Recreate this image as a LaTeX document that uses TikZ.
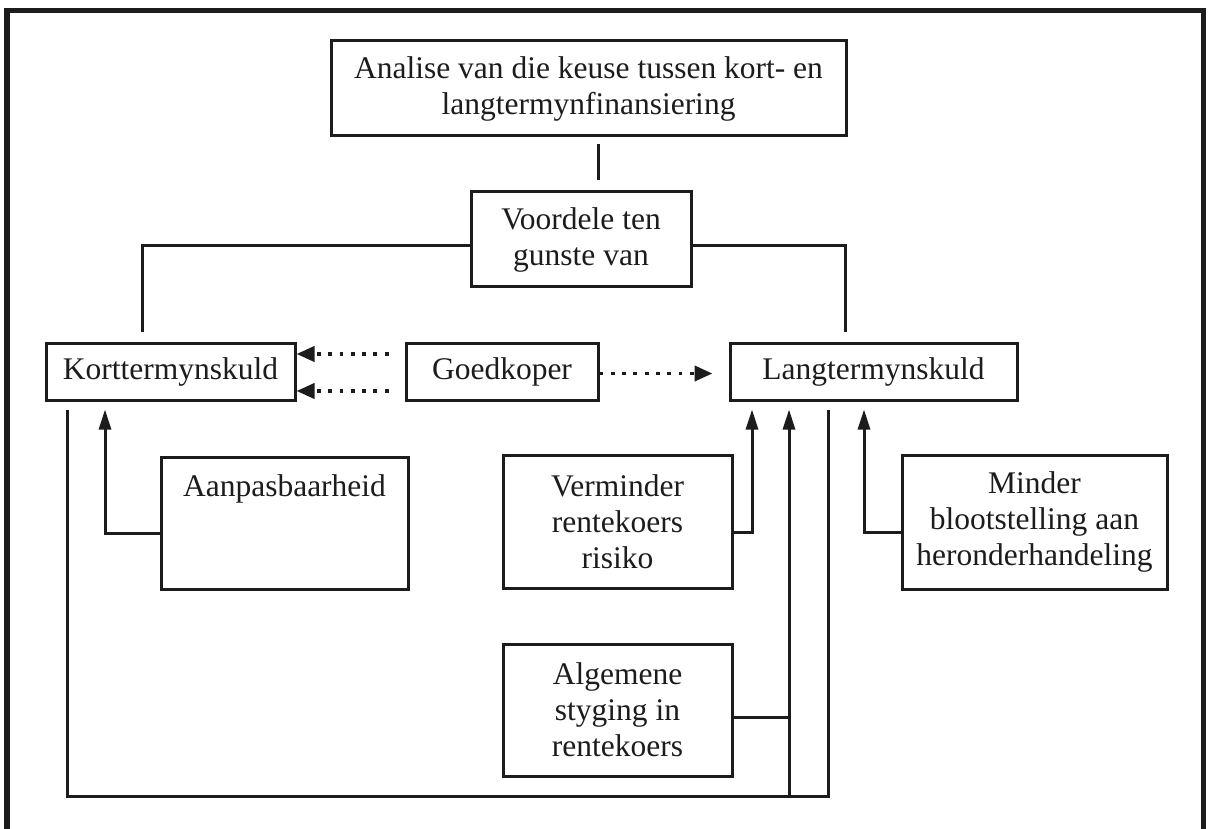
\documentclass[tikz,border=0pt]{standalone}
\usepackage{fontspec}
\setmainfont{Liberation Serif}
\usetikzlibrary{arrows.meta}
\definecolor{ink}{RGB}{28,28,28}
\begin{document}
\begin{tikzpicture}[x=1pt,y=-1pt,
  box/.style={draw=ink, text=ink, line width=3pt, inner sep=0pt, align=center,
              font=\fontsize{31.5}{36}\selectfont},
  conn/.style={draw=ink, line width=3pt},
  arr/.style={conn, -{Triangle[length=20pt,width=12pt]}},
  dotarr/.style={draw=ink, line width=3.8pt, dash pattern=on 3.8pt off 7.5pt,
                 -{Triangle[length=18pt,width=15pt]}},
  frame/.style={draw=ink, line width=5.5pt}
]
\useasboundingbox (0,0) rectangle (1208,829);
\clip (0,0) rectangle (1208,829);

% outer frame (continues below the visible area)
\draw[frame] (7,860) -- (7,10.5) -- (1203.5,10.5) -- (1203.5,860);

% boxes
\node[box, minimum width=515pt, minimum height=95pt] (top) at (588.5,88.5)
  {Analise van die keuse tussen kort- en\\langtermynfinansiering};
\node[box, minimum width=220pt, minimum height=95pt] (voordele) at (581,239.5)
  {Voordele ten\\gunste van};
\node[box, minimum width=249pt, minimum height=57pt] (kort) at (170.5,371.5)
  {Korttermynskuld};
\node[box, minimum width=192pt, minimum height=57pt] (goed) at (502,371.5)
  {Goedkoper};
\node[box, minimum width=287pt, minimum height=57pt] (lang) at (873.5,371.5)
  {Langtermynskuld};
\node[box, minimum width=247pt, text height=39pt, text depth=93pt, anchor=north] (aanpas) at (284.5,456)
  {Aanpasbaarheid};
\node[box, minimum width=229pt, minimum height=133pt] (verm) at (617.5,521.5)
  {Verminder\\rentekoers\\risiko};
\node[box, minimum width=265pt, minimum height=134pt] (minder) at (1034.5,522)
  {Minder\\blootstelling aan\\heronderhandeling};
\node[box, minimum width=229pt, minimum height=132pt] (alg) at (617.5,710)
  {Algemene\\styging in\\rentekoers};

% tree at the top
\draw[conn] ([shift={(9.5,7)}]top.south) -- ([shift={(17,-10)}]voordele.north);
\draw[conn] ([shift={(0,6.5)}]voordele.west) -| ([shift={(-28.5,-10)}]kort.north);
\draw[conn] ([shift={(0,6.5)}]voordele.east) -| ([shift={(-28.5,-10)}]lang.north);

% dotted links from Goedkoper
\draw[dotarr] ([shift={(-16,-17.5)}]goed.west) -- ([shift={(0,-17.5)}]kort.east);
\draw[dotarr] ([shift={(-16,19.5)}]goed.west) -- ([shift={(0,19.5)}]kort.east);
\draw[dotarr] ([shift={(0,2)}]goed.east) -- ([shift={(-16,2)}]lang.west);

% advantages feeding the two kinds of debt
\draw[arr] ([shift={(0,10)}]aanpas.west) -| ([shift={(-65.5,8)}]kort.south);
\draw[arr] ([shift={(0,10.5)}]verm.east) -| ([shift={(-121.5,8)}]lang.south);
\draw[arr] ([shift={(0,10)}]minder.west) -| ([shift={(-9.5,8)}]lang.south);

% interest-rate rise riser
\coordinate (riserfoot) at (789,795);
\draw[arr] (riserfoot) -- ([shift={(-84.5,8)}]lang.south);
\draw[conn] ([shift={(0,7)}]alg.east) -- ([shift={(0,7)}]alg.east -| riserfoot);

% loop joining both kinds of debt along the bottom
\draw[conn] ([shift={(-103.5,8)}]kort.south) -- ++(0,387) -| ([shift={(-45.5,8)}]lang.south);
\end{tikzpicture}
\end{document}
